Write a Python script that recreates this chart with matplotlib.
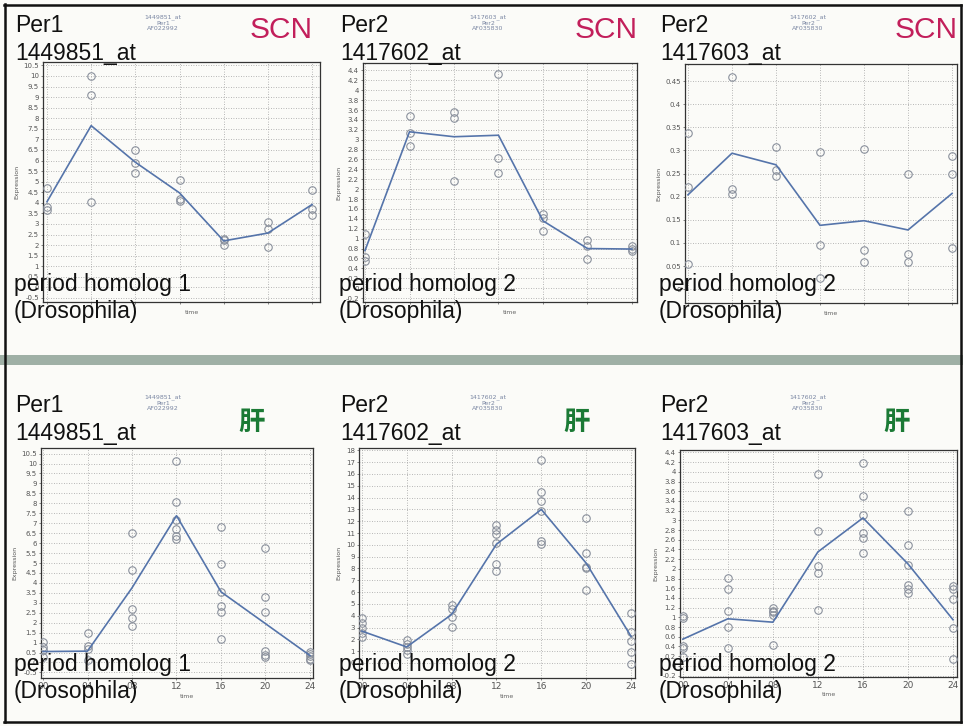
import matplotlib
matplotlib.use("Agg")
import matplotlib.pyplot as plt
from matplotlib.lines import Line2D
from matplotlib.patches import Rectangle
import numpy as np

W, H = 963, 726
times = [0, 4, 8, 12, 16, 20, 24]
time_labels = ["00", "04", "08", "12", "16", "20", "24"]

# ---- data ----
scn_per1_pts = [[4.7, 3.8, 3.65], [10.0, 9.1, 4.05], [6.5, 5.87, 5.4], [5.1, 4.17, 4.1],
                [2.3, 2.25, 2.0], [3.1, 2.74, 1.9], [4.6, 3.69, 3.42]]
scn_per1_mean = [4.05, 7.65, 5.92, 4.47, 2.2, 2.57, 3.92]

scn_per2a_pts = [[1.09, 0.62, 0.55], [3.47, 3.14, 2.87], [3.56, 3.44, 2.16], [4.32, 2.64, 2.33],
                 [1.49, 1.41, 1.15], [0.97, 0.85, 0.58], [0.86, 0.76, 0.8]]
scn_per2a_mean = [0.76, 3.16, 3.06, 3.09, 1.36, 0.8, 0.79]

scn_per2b_pts = [[0.337, 0.22, 0.054], [0.459, 0.216, 0.206], [0.307, 0.258, 0.244],
                 [0.296, 0.096, 0.024], [0.304, 0.084, 0.059], [0.249, 0.076, 0.058],
                 [0.288, 0.248, 0.088]]
scn_per2b_mean = [0.204, 0.294, 0.269, 0.138, 0.148, 0.128, 0.207]

liv_per1_pts = [[1.05, 0.8, 0.62, 0.3], [1.47, 0.82, 0.67, 0.12], [6.52, 4.66, 2.67, 2.24, 1.84],
                [10.15, 8.08, 7.16, 6.69, 6.35, 6.22], [6.8, 4.95, 3.55, 2.85, 2.55, 1.2],
                [5.73, 3.3, 2.54, 0.58, 0.4, 0.3], [0.55, 0.42, 0.35, 0.2, 0.1]]
liv_per1_mean = [0.55, 0.57, 3.75, 7.38, 3.55, 1.95, 0.35]

liv_per2a_pts = [[3.85, 3.4, 3.0, 2.5, 2.2], [1.95, 1.6, 1.35, 1.1, 0.8], [4.95, 4.55, 3.9, 3.05],
                 [11.7, 11.3, 10.9, 10.2, 8.4, 7.8], [17.2, 14.5, 13.7, 12.9, 10.3, 10.1],
                 [12.25, 9.3, 8.1, 8.0, 6.2], [4.25, 2.6, 1.85, 0.9, -0.1]]
liv_per2a_mean = [2.7, 1.36, 4.1, 10.05, 13.0, 8.45, 2.25]

liv_per2b_pts = [[1.03, 0.99, 0.41, 0.37, 0.18], [1.82, 1.59, 1.14, 0.8, 0.37],
                 [1.19, 1.14, 1.1, 1.04, 0.42], [3.96, 2.79, 2.06, 1.92, 1.16],
                 [4.19, 3.51, 3.1, 2.73, 2.63, 2.32], [3.19, 2.5, 2.08, 1.66, 1.58, 1.51],
                 [1.64, 1.58, 1.37, 0.77, 0.15]]
liv_per2b_mean = [0.55, 0.97, 0.9, 2.35, 3.05, 2.1, 0.95]

gene_names = ["Per1", "Per2", "Per2", "Per1", "Per2", "Per2"]
probe_ids = ["1449851_at", "1417602_at", "1417603_at", "1449851_at", "1417602_at", "1417603_at"]
small_ids = ["1449851_at", "1417603_at", "1417602_at", "1449851_at", "1417602_at", "1417602_at"]
accessions = ["AF022992", "AF035830", "AF035830", "AF022992", "AF035830", "AF035830"]
descs = ["period homolog 1", "period homolog 2", "period homolog 2",
         "period homolog 1", "period homolog 2", "period homolog 2"]
tissues = ["SCN", "SCN", "SCN", "肝", "肝", "肝"]

# ---- layout (pixel boxes: left, right, top, bottom) ----
panels = [
    dict(pts=scn_per1_pts, mean=scn_per1_mean, box=(43, 320, 62, 302), ylim=(-0.69, 10.66),
         ticks=(-0.5, 10.5, 0.5), xlim=(-0.36, 24.72), off=(0, 0), xlab=False),
    dict(pts=scn_per2a_pts, mean=scn_per2a_mean, box=(363, 637, 63, 302), ylim=(-0.28, 4.55),
         ticks=(-0.2, 4.4, 0.2), xlim=(-0.18, 24.45), off=(325, 0), xlab=False),
    dict(pts=scn_per2b_pts, mean=scn_per2b_mean, box=(685, 957, 64, 303), ylim=(-0.03, 0.487),
         ticks=(0.0, 0.45, 0.05), xlim=(-0.27, 24.45), off=(645, 0), xlab=False),
    dict(pts=liv_per1_pts, mean=liv_per1_mean, box=(41, 313, 448, 678), ylim=(-0.78, 10.78),
         ticks=(-0.5, 10.5, 0.5), xlim=(-0.18, 24.27), off=(0, 380), xlab=True),
    dict(pts=liv_per2a_pts, mean=liv_per2a_mean, box=(359, 635, 448, 678), ylim=(-1.27, 18.2),
         ticks=(0, 18, 1), xlim=(-0.25, 24.35), off=(325, 380), xlab=True),
    dict(pts=liv_per2b_pts, mean=liv_per2b_mean, box=(680, 957, 450, 677), ylim=(-0.23, 4.45),
         ticks=(-0.2, 4.4, 0.2), xlim=(-0.25, 24.35), off=(645, 380), xlab=True),
]

BG = "#fbfbf8"
fig = plt.figure(figsize=(W / 100, H / 100), dpi=100, facecolor=BG)

def fx(x):
    return x / W

def fy(y):
    return 1 - y / H

line_col = "#5574aa"
circ_col = "#8a909c"
grid_col = "#a0a0a0"

for i, p in enumerate(panels):
    l, r, t, b = p["box"]
    ax = fig.add_axes([fx(l), fy(b), (r - l) / W, (b - t) / H], facecolor=BG)
    for ti, vals in zip(times, p["pts"]):
        ax.plot([ti] * len(vals), vals, linestyle="none", marker="o", ms=5.4,
                mfc="none", mec=circ_col, mew=0.8, zorder=3)
    ax.plot(times, p["mean"], color=line_col, lw=1.2, zorder=4)
    ax.set_xlim(*p["xlim"])
    ax.set_ylim(*p["ylim"])
    t0, t1, st = p["ticks"]
    yt = np.round(np.arange(t0, t1 + st / 2, st), 3)
    ax.set_yticks(yt)
    ax.set_yticklabels(["{:g}".format(v) for v in yt], fontsize=5, color="#333333")
    ax.set_xticks(times)
    if p["xlab"]:
        ax.set_xticklabels(time_labels, fontsize=6.5, color="#444444")
    else:
        ax.set_xticklabels([])
    ax.tick_params(length=1.5, width=0.5, pad=1.5, colors="#555555")
    ax.grid(True, linestyle=(0, (1, 2)), color=grid_col, lw=0.6)
    ax.set_axisbelow(True)
    for s in ax.spines.values():
        s.set_color("#333333")
        s.set_linewidth(0.9)
    ax.set_ylabel("Expression", fontsize=4.5, color="#555555", labelpad=3)

    ox, oy = p["off"]
    # time label
    fig.text(fx((l + r) / 2 + 10), fy(b + (18 if p["xlab"] else 10)), "time",
             fontsize=4.5, color="#666666", ha="center", va="center")
    # big labels
    big = dict(fontsize=16.5, family=["Liberation Sans", "DejaVu Sans"], color="#111111",
               va="baseline", ha="left", zorder=10)
    fig.text(fx(ox + 15), fy(oy + 32), gene_names[i], **big)
    fig.text(fx(ox + 15), fy(oy + 60), probe_ids[i], **big)
    fig.text(fx(ox + 14), fy(oy + 291), descs[i], **big)
    fig.text(fx(ox + 14), fy(oy + 318), "(Drosophila)", **big)
    # small header
    fig.text(fx(ox + 163), fy(oy + 23), small_ids[i] + "\n" + gene_names[i] + "\n" + accessions[i],
             fontsize=4.5, color="#7b87a3", ha="center", va="center", linespacing=1.1)
    # tissue label
    if tissues[i] == "SCN":
        fig.text(fx(ox + 313), fy(oy + 38), tissues[i], fontsize=21.5, color="#c21f5b",
                 family=["Liberation Sans", "DejaVu Sans"], ha="right", va="baseline")
    else:
        fig.text(fx(ox + 252), fy(oy + 42), tissues[i], fontsize=19, color="#1b7a35",
                 family=["Noto Sans CJK SC", "DejaVu Sans"], fontweight="bold",
                 ha="center", va="center")

# separator band and outer border
fig.patches.append(Rectangle((0, fy(365)), 1, 10 / H, transform=fig.transFigure,
                             facecolor="#9fb0a6", edgecolor="none", zorder=0))
for xs, ys in [((5, 5), (4, 722)), ((4, 961), (5, 5)), ((4, 961), (722, 722)), ((961, 961), (5, 722))]:
    fig.add_artist(Line2D([fx(xs[0]), fx(xs[1])], [fy(ys[0]), fy(ys[1])],
                          transform=fig.transFigure, color="#111111", lw=1.8))

fig.savefig("out.png", dpi=100, facecolor=BG)
